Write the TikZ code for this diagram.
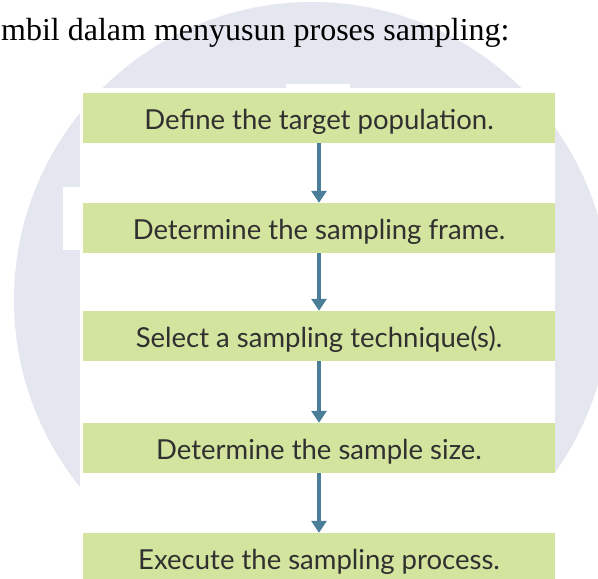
\documentclass[tikz,border=0pt]{standalone}
\usepackage{fontspec}
\setmainfont{Liberation Serif}
\newfontfamily\boxfont{Lato}
\usetikzlibrary{arrows.meta}
\definecolor{wmgrey}{RGB}{228,231,239}
\definecolor{boxgreen}{RGB}{210,228,158}
\definecolor{arrblue}{RGB}{75,127,153}
\definecolor{boxtext}{RGB}{48,48,48}
\tikzset{
  stepbox/.style={fill=boxgreen, draw=none, minimum width=472pt, minimum height=50pt,
    inner sep=0pt, text height=24pt, text depth=2pt, text=boxtext,
    font=\boxfont\fontsize{27.5pt}{30pt}\selectfont},
  flowarrow/.style={draw=arrblue, line width=3.5pt, -{Triangle[width=15pt,length=12pt]}},
}
\begin{document}
\begin{tikzpicture}[x=1pt,y=-1pt]
\useasboundingbox (0,0) rectangle (598,579);
\fill[white] (0,0) rectangle (598,579);
\begin{scope}
  \clip (0,0) rectangle (598,579);
  \fill[wmgrey] (312,300) circle[radius=298];
\end{scope}
% pasted diagram background and logo notches
\fill[white] (80,88) rectangle (555,579);
\fill[white] (286,84) rectangle (350,90);
\fill[white] (63,187) rectangle (80,250);
% title line
\node[anchor=base west, inner sep=0pt, font=\fontsize{32pt}{36pt}\selectfont] (title) at (1,40) {mbil dalam menyusun proses sampling:};
% steps
\node[stepbox] (s1) at (319,118) {Define the target population.};
\node[stepbox] (s2) at (319,228) {Determine the sampling frame.};
\node[stepbox] (s3) at (319,336) {Select a sampling technique(s).};
\node[stepbox] (s4) at (319,448) {Determine the sample size.};
\node[stepbox] (s5) at (319,558) {Execute the sampling process.};
\draw[flowarrow] (s1.south) -- (s2.north);
\draw[flowarrow] (s2.south) -- (s3.north);
\draw[flowarrow] (s3.south) -- (s4.north);
\draw[flowarrow] (s4.south) -- (s5.north);
\end{tikzpicture}
\end{document}
